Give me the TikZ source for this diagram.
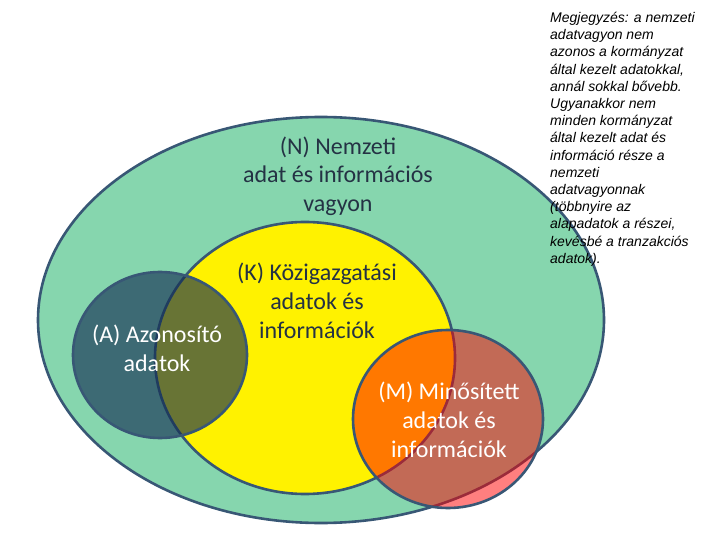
\documentclass[tikz,border=0pt]{standalone}
\usepackage{fontspec}
\setmainfont{Carlito}
\newfontfamily\notefont{Liberation Sans}
\definecolor{ngreen}{RGB}{134,214,174}
\definecolor{edgec}{RGB}{56,87,117}
\definecolor{anavy}{RGB}{20,46,84}
\definecolor{labeldark}{RGB}{36,50,68}
\begin{document}
\begin{tikzpicture}[x=1bp,y=-1bp,
  outl/.style={draw=edgec,line width=2.6bp},
  biglabel/.style={font=\fontsize{24bp}{28.7bp}\selectfont,align=center,inner sep=0pt},
  notestyle/.style={font=\notefont\itshape\fontsize{14bp}{17.2bp}\selectfont,align=left,inner sep=0pt,anchor=north west}]
\fill[white] (0,0) rectangle (720,540);
\useasboundingbox (0,0) rectangle (720,540);
% N
\fill[ngreen] (321,320) ellipse [x radius=283bp, y radius=203bp];
% K
\fill[yellow] (305,358) ellipse [x radius=150bp, y radius=136bp];
\draw[outl] (305,358) ellipse [x radius=150bp, y radius=136bp];
% A
\fill[anavy,fill opacity=0.64] (160,355) ellipse [x radius=87bp, y radius=83bp];
\draw[outl] (160,355) ellipse [x radius=87bp, y radius=83bp];
% N outline
\draw[outl] (321,320) ellipse [x radius=283bp, y radius=203bp];
% M
\fill[red,fill opacity=0.5] (448,419) ellipse [x radius=95bp, y radius=89bp];
\draw[outl] (448,419) ellipse [x radius=95bp, y radius=89bp];
% labels
\node[biglabel,text=labeldark] (nlab) at (338,176) {(N) Nemzeti\\adat és információs\\vagyon};
\node[biglabel,text=labeldark] (klab) at (317,301) {(K) Közigazgatási\\adatok és\\információk};
\node[biglabel,text=white] (alab) at (157,348) {(A) Azonosító\\adatok};
\node[biglabel,text=white] (mlab) at (449,420) {(M) Minősített\\adatok és\\információk};
\node[notestyle] (note) at (550,12) {Megjegyzés: a nemzeti\\adatvagyon nem\\azonos a kormányzat\\által kezelt adatokkal,\\annál sokkal bővebb.\\Ugyanakkor nem\\minden kormányzat\\által kezelt adat és\\információ része a\\nemzeti\\adatvagyonnak\\(többnyire az\\alapadatok a részei,\\kevésbé a tranzakciós\\adatok).};
\end{tikzpicture}
\end{document}
